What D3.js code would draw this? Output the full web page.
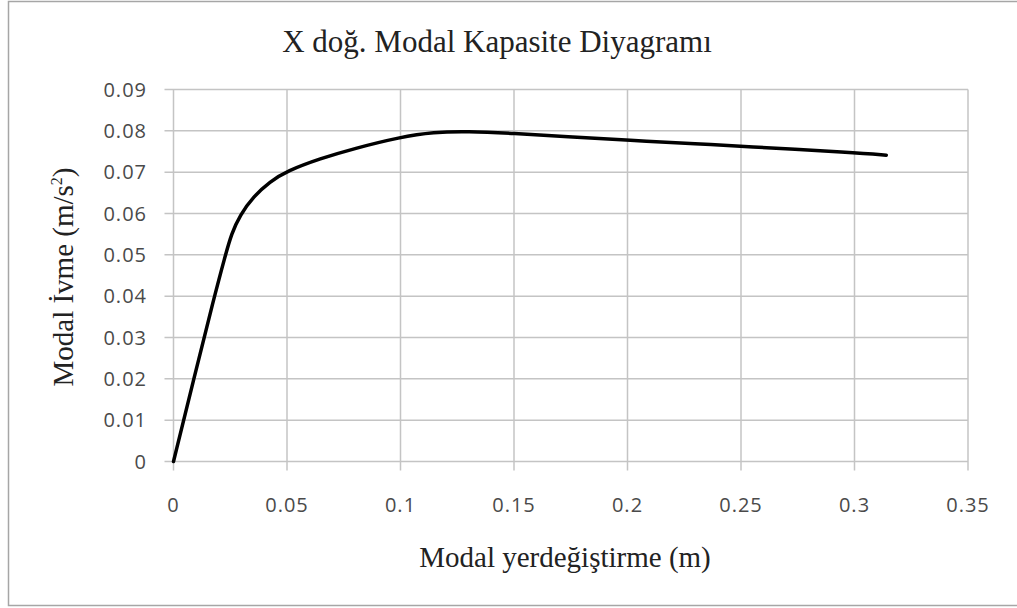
<!DOCTYPE html>
<html><head><meta charset="utf-8">
<script src="https://cdn.jsdelivr.net/npm/d3@7"></script>
<style>body{margin:0;background:#fff}svg{display:block}</style>
</head><body><svg id="c" width="1017" height="608"></svg>
<script>
const dispX = [0, 0.009, 0.0178, 0.0227, 0.0256, 0.0293, 0.0352, 0.0425, 0.05, 0.0647, 0.0794, 0.1, 0.1146, 0.1293, 0.1498, 0.1733, 0.2005, 0.232, 0.25, 0.3002, 0.314];
const accY  = [0, 0.0201, 0.0395, 0.0496, 0.0552, 0.0596, 0.0641, 0.0677, 0.0703, 0.0733, 0.0757, 0.0785, 0.0797, 0.0799, 0.0794, 0.0786, 0.0777, 0.0768, 0.0763, 0.0747, 0.0741];
const xTicks = [0, 0.05, 0.1, 0.15, 0.2, 0.25, 0.3, 0.35];
const yTicks = [0, 0.01, 0.02, 0.03, 0.04, 0.05, 0.06, 0.07, 0.08, 0.09];
const title = "X doğ. Modal Kapasite Diyagramı";
const xTitle = "Modal yerdeğiştirme (m)";

const svg = d3.select("#c");
const L = 173.5, R = 968, T = 89.5, B = 461.5;
const x = d3.scaleLinear().domain([0, 0.35]).range([L, R]);
const y = d3.scaleLinear().domain([0, 0.09]).range([B, T]);
const gridC = "#c4c4c4";

svg.append("rect").attr("x", 8.5).attr("y", 1.5).attr("width", 1020).attr("height", 604)
  .attr("fill", "none").attr("stroke", "#a6a6a6").attr("stroke-width", 1.5);

// grid
svg.append("g").selectAll("line").data(yTicks).join("line")
  .attr("x1", L - 9).attr("x2", R).attr("y1", d => y(d)).attr("y2", d => y(d))
  .attr("stroke", gridC).attr("stroke-width", 1.5);
svg.append("g").selectAll("line").data(xTicks).join("line")
  .attr("x1", d => x(d)).attr("x2", d => x(d)).attr("y1", T).attr("y2", B + 9)
  .attr("stroke", gridC).attr("stroke-width", 1.5);

// tick labels
const tf = "'Open Sans', 'Liberation Sans', sans-serif";
svg.append("g").selectAll("text").data(yTicks).join("text")
  .attr("x", 147).attr("y", d => y(d)).attr("dy", "0.36em").attr("text-anchor", "end")
  .attr("font-family", tf).attr("font-size", 20).attr("letter-spacing", 1).attr("fill", "#4a4a4a")
  .text(d => d3.format("")(+d.toFixed(2)));
svg.append("g").selectAll("text").data(xTicks).join("text")
  .attr("x", d => x(d)).attr("y", 505).attr("dy", "0.36em").attr("text-anchor", "middle")
  .attr("font-family", tf).attr("font-size", 20).attr("letter-spacing", 1).attr("fill", "#4a4a4a")
  .text(d => d3.format("")(+d.toFixed(2)));

// line
const pts = dispX.map((d, i) => [d, accY[i]]);
svg.append("path").datum(pts)
  .attr("d", d3.line().x(d => x(d[0])).y(d => y(d[1])).curve(d3.curveBasis))
  .attr("fill", "none").attr("stroke", "#000").attr("stroke-width", 3.5)
  .attr("stroke-linecap", "round").attr("stroke-linejoin", "round");

// titles
const sf = "'Liberation Serif', 'Times New Roman', serif";
svg.append("text").attr("x", 497).attr("y", 52).attr("text-anchor", "middle")
  .attr("font-family", sf).attr("font-size", 31).attr("fill", "#222").text(title);
svg.append("text").attr("x", 565).attr("y", 567).attr("text-anchor", "middle")
  .attr("font-family", sf).attr("font-size", 29).attr("fill", "#222").text(xTitle);
const yl = svg.append("text").attr("transform", "translate(73,277) rotate(-90)")
  .attr("text-anchor", "middle").attr("font-family", sf).attr("font-size", 29).attr("fill", "#222");
yl.append("tspan").text("Modal İvme (m/s");
yl.append("tspan").attr("font-size", 16).attr("dy", -11).text("2");
yl.append("tspan").attr("dy", 11).text(")");
</script></body></html>
